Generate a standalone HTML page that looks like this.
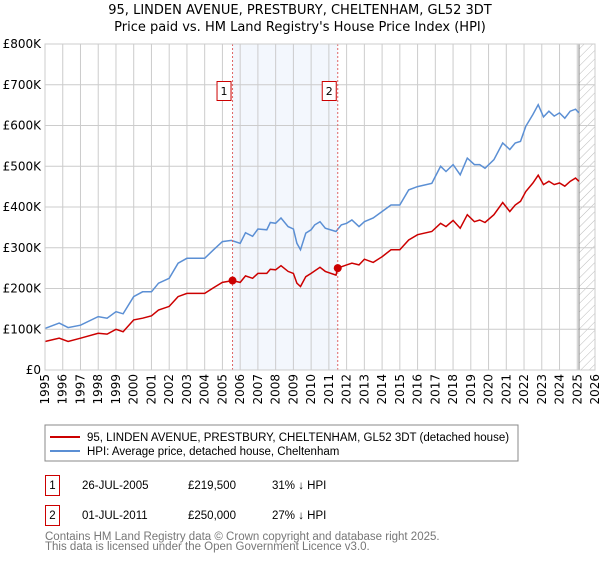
<!DOCTYPE html>
<html><head><meta charset="utf-8"><style>
body{margin:0;background:#fff;font-family:"DejaVu Sans","Liberation Sans",sans-serif;}
svg text{font-family:"DejaVu Sans","Liberation Sans",sans-serif;}
svg text.lib{font-family:"Liberation Sans",sans-serif;}
</style></head><body>
<svg id="c" width="600" height="560" xmlns="http://www.w3.org/2000/svg">
<defs><pattern id="hatch" width="6" height="6" patternUnits="userSpaceOnUse" patternTransform="rotate(45)"><line x1="0" y1="0" x2="0" y2="6" stroke="#bbb" stroke-width="1"/></pattern></defs>
<text x="300" y="14" text-anchor="middle" font-size="13">95, LINDEN AVENUE, PRESTBURY, CHELTENHAM, GL52 3DT</text>
<text x="300" y="31" text-anchor="middle" font-size="13">Price paid vs. HM Land Registry's House Price Index (HPI)</text>
<g id="plot"></g>
<rect x="45" y="425" width="473" height="36" fill="#fff" stroke="#888"/>
<line x1="50" y1="437" x2="80" y2="437" stroke="#cc0000" stroke-width="2"/>
<text class="lib" x="87" y="441" font-size="11.5">95, LINDEN AVENUE, PRESTBURY, CHELTENHAM, GL52 3DT (detached house)</text>
<line x1="50" y1="451" x2="80" y2="451" stroke="#5b8fd4" stroke-width="2"/>
<text class="lib" x="87" y="455" font-size="11.5">HPI: Average price, detached house, Cheltenham</text>
<rect x="45.5" y="475.5" width="14" height="20" fill="#fff" stroke="#cc0000"/>
<text class="lib" x="52.5" y="489" text-anchor="middle" font-size="11.5">1</text>
<text class="lib" x="82" y="489" font-size="11.5">26-JUL-2005</text>
<text class="lib" x="188" y="489" font-size="11.5">£219,500</text>
<text class="lib" x="272" y="489" font-size="11.5">31% ↓ HPI</text>
<rect x="45.5" y="505.5" width="14" height="20" fill="#fff" stroke="#cc0000"/>
<text class="lib" x="52.5" y="519" text-anchor="middle" font-size="11.5">2</text>
<text class="lib" x="82" y="519" font-size="11.5">01-JUL-2011</text>
<text class="lib" x="188" y="519" font-size="11.5">£250,000</text>
<text class="lib" x="272" y="519" font-size="11.5">27% ↓ HPI</text>
<text class="lib" x="45" y="540" font-size="11.5" fill="#777">Contains HM Land Registry data © Crown copyright and database right 2025.</text>
<text class="lib" x="45" y="550" font-size="11.5" fill="#777">This data is licensed under the Open Government Licence v3.0.</text>
</svg>
<script>
const yTicks=[0,100,200,300,400,500,600,700,800];
const yTickLabels=["£0","£100K","£200K","£300K","£400K","£500K","£600K","£700K","£800K"];
const xYears=[1995,1996,1997,1998,1999,2000,2001,2002,2003,2004,2005,2006,2007,2008,2009,2010,2011,2012,2013,2014,2015,2016,2017,2018,2019,2020,2021,2022,2023,2024,2025,2026];
const hpiT=[1995,1995.8,1996.3,1997,1998,1998.5,1999,1999.4,2000,2000.5,2001,2001.4,2002,2002.5,2003,2004,2004.5,2005,2005.5,2006,2006.3,2006.7,2007,2007.5,2007.7,2008,2008.3,2008.7,2009,2009.2,2009.4,2009.7,2010,2010.2,2010.5,2010.8,2011.4,2011.7,2012,2012.3,2012.7,2013,2013.5,2014,2014.5,2015,2015.5,2016,2016.8,2017.3,2017.6,2018,2018.4,2018.8,2019.2,2019.5,2019.8,2020.3,2020.8,2021.2,2021.5,2021.8,2022.1,2022.5,2022.8,2023.1,2023.4,2023.7,2024,2024.3,2024.6,2024.9,2025.1];
const hpiV=[102,115,104,110,131,127,143,138,180,192,192,213,225,262,274,274,295,315,318,311,337,328,346,344,362,360,373,352,346,311,295,336,344,356,364,348,340,356,360,368,352,364,373,389,405,405,442,450,458,500,487,504,479,520,504,504,495,516,557,541,557,561,598,627,651,621,635,623,631,618,635,640,631];
const priceT=[1995,1995.8,1996.3,1997,1998,1998.5,1999,1999.4,2000,2000.5,2001,2001.4,2002,2002.5,2003,2004,2004.5,2005,2005.57,2006,2006.3,2006.7,2007,2007.5,2007.7,2008,2008.3,2008.7,2009,2009.2,2009.4,2009.7,2010,2010.5,2010.8,2011.4,2011.5,2012,2012.3,2012.7,2013,2013.5,2014,2014.5,2015,2015.5,2016,2016.8,2017.3,2017.6,2018,2018.4,2018.8,2019.2,2019.5,2019.8,2020.3,2020.8,2021.2,2021.5,2021.8,2022.1,2022.5,2022.8,2023.1,2023.4,2023.7,2024,2024.3,2024.6,2024.9,2025.1];
const priceV=[70,78,70,78,90,88,100,94,123,127,133,147,156,180,188,188,202,215,219.5,215,231,225,237,237,247,246,256,242,237,213,205,229,237,252,242,233,250,258,262,258,272,264,278,295,295,319,332,340,360,352,367,348,381,364,368,362,381,411,389,405,414,438,459,478,455,463,455,459,451,463,471,463];
const saleT=[2005.57,2011.5];
const saleV=[219.5,250];
const saleLabels=["1","2"];
const dataEnd=2025.1;

const NS="http://www.w3.org/2000/svg";
const L=45,R=595,T=44,B=370;
const x=t=>L+(t-1995)/(2026-1995)*(R-L);
const y=v=>B-v/800*(B-T);
const g=document.getElementById('plot');
function mk(tag,a){const e=document.createElementNS(NS,tag);for(const k in a)e.setAttribute(k,a[k]);g.appendChild(e);return e;}
let e;
e=mk('rect',{x:x(saleT[0]),y:T,width:x(saleT[1])-x(saleT[0]),height:B-T,fill:'#eef3fc',opacity:0.7});


e=mk('rect',{x:x(dataEnd),y:T,width:R-x(dataEnd),height:B-T,fill:'url(#hatch)'});


yTicks.forEach((v,i)=>{
 e=mk('line',{x1:L,x2:R,y1:y(v),y2:y(v),stroke:'#ccc','stroke-width':1});
 
 
 e=mk('text',{x:L-4,y:y(v)+4,'text-anchor':'end','font-size':12});
 e.textContent=yTickLabels[i];
 
 
});
xYears.forEach(t=>{
 e=mk('line',{x1:x(t),x2:x(t),y1:T,y2:B,stroke:'#ccc','stroke-width':1});
 
 
 e=mk('text',{x:0,y:0,'text-anchor':'end','font-size':12,transform:`translate(${x(t)+4},${B+4}) rotate(-90)`});
 e.textContent=t;
 
 
});
e=mk('line',{x1:x(dataEnd),x2:x(dataEnd),y1:T,y2:B,stroke:'#888','stroke-width':1});


const path=(ts,vs)=>ts.map((t,i)=>(i?'L':'M')+x(t).toFixed(1)+','+y(vs[i]).toFixed(1)).join('');
e=mk('path',{d:path(hpiT,hpiV),fill:'none',stroke:'#5b8fd4','stroke-width':1.5});


e=mk('path',{d:path(priceT,priceV),fill:'none',stroke:'#cc0000','stroke-width':1.5});


saleT.forEach((t,i)=>{
 e=mk('line',{x1:x(t),x2:x(t),y1:T,y2:B,stroke:'#e06666','stroke-width':1,'stroke-dasharray':'2,2'});
 
 
 e=mk('circle',{cx:x(t),cy:y(saleV[i]),r:4,fill:'#cc0000'});
 
 
 e=mk('rect',{x:x(t)-15.5,y:81.5,width:14,height:19,fill:'#fff',stroke:'#cc0000'});
 
 
 e=mk('text',{x:x(t)-8.5,y:95,'text-anchor':'middle','font-size':11});
 e.textContent=saleLabels[i];
 
 
});
e=mk('rect',{x:L,y:T,width:R-L,height:B-T,fill:'none',stroke:'#ccc'});


</script>
</body></html>
